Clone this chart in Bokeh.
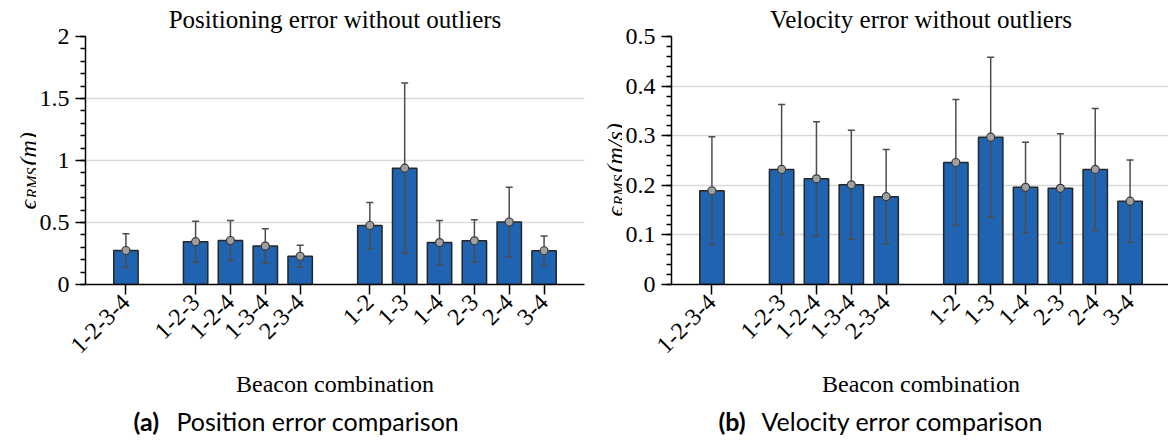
import numpy as np
from bokeh.plotting import figure
from bokeh.models import (ColumnDataSource, Range1d, FixedTicker, SingleIntervalTicker,
                          CustomJSTickFormatter)
from bokeh.layouts import row, column
from bokeh.core.properties import value
from bokeh.embed import file_html
from bokeh.resources import INLINE

# ---------------- data ----------------
combos = ["1-2-3-4", "1-2-3", "1-2-4", "1-3-4", "2-3-4",
          "1-2", "1-3", "1-4", "2-3", "2-4", "3-4"]
pos_mean = [0.274, 0.345, 0.355, 0.310, 0.228, 0.476, 0.938, 0.338, 0.352, 0.504, 0.272]
pos_std = [0.135, 0.166, 0.161, 0.139, 0.088, 0.186, 0.686, 0.178, 0.170, 0.281, 0.119]
vel_mean = [0.189, 0.232, 0.213, 0.201, 0.177, 0.246, 0.297, 0.196, 0.194, 0.232, 0.168]
vel_std = [0.109, 0.131, 0.115, 0.110, 0.095, 0.127, 0.161, 0.091, 0.110, 0.123, 0.083]

titles = ["Positioning error without outliers", "Velocity error without outliers"]
x_label = "Beacon combination"
y_units = ["(m)", "(m/s)"]
cap_tags = ["(a)", "(b)"]
cap_texts = ["Position error comparison", "Velocity error comparison"]

SERIF = "Liberation Serif"
SANS = "Lato"
BAR = "#1f63b1"
FS = "24px"
FW, FH = 499, 248          # plot frame size
TOP, BOTTOM = 36, 120      # space above / below the frame
LABW = 36                  # width of the strip holding the rotated y label
H_TOP = TOP + FH + BOTTOM
H_CAP = 440 - H_TOP


def slot_positions(labels):
    """one slot per bar, one empty slot between groups of equal beacon count"""
    pos, cur, prev = [], 0, None
    for lab in labels:
        n = lab.count("-") + 1
        if prev is not None:
            cur += 1 if n == prev else 2
        pos.append(cur)
        prev = n
    return pos


def blank(width, height):
    """axis-less canvas whose data units are pixels (origin bottom-left)"""
    f = figure(frame_width=width, frame_height=height, title=None,
               x_range=Range1d(0, width), y_range=Range1d(0, height),
               x_axis_location=None, y_axis_location=None,
               min_border=0, min_border_left=0, min_border_right=0,
               min_border_top=0, min_border_bottom=0,
               output_backend="svg", toolbar_location=None)
    f.grid.visible = False
    f.outline_line_color = None
    f.background_fill_color = "white"
    f.border_fill_color = "white"
    return f


def ylabel_strip(unit, start, bx):
    """eps_RMS(unit) written bottom-to-top"""
    f = blank(LABW, H_TOP)
    base = BOTTOM + start
    f.text(x=[bx], y=[base], text=["\u03f5"], angle=np.pi / 2,
           text_font=value(SERIF), text_font_size=FS, text_font_style="italic",
           text_align="left", text_baseline="alphabetic", text_color="black")
    f.text(x=[bx + 5], y=[base + 11], text=["RMS"], angle=np.pi / 2,
           text_font=value(SERIF), text_font_size="16px", text_font_style="italic",
           text_align="left", text_baseline="alphabetic", text_color="black")
    f.text(x=[bx], y=[base + 44], text=[unit], angle=np.pi / 2,
           text_font=value(SERIF), text_font_size=FS, text_font_style="italic",
           text_align="left", text_baseline="alphabetic", text_color="black")
    return f


def make(idx, mean, std, ymax, yint, bleft, bright):
    x = slot_positions(combos)
    src = ColumnDataSource(dict(
        x=x, mean=mean,
        upper=[m + s for m, s in zip(mean, std)],
        lower=[m - s for m, s in zip(mean, std)],
    ))
    p = figure(frame_width=FW, frame_height=FH,
               min_border_left=bleft, min_border_right=bright,
               min_border_top=TOP, min_border_bottom=BOTTOM,
               x_range=Range1d(x[0] - 1.16, x[-1] + 1.16),
               y_range=Range1d(0, ymax),
               output_backend="svg", toolbar_location=None,
               title=titles[idx])
    p.outline_line_color = None
    p.background_fill_color = "white"
    p.border_fill_color = "white"

    p.title.text_font = SERIF
    p.title.text_font_size = "25px"
    p.title.text_font_style = "normal"
    p.title.text_color = "black"
    p.title.align = "center"
    p.title.standoff = 7

    xa = p.xaxis[0]
    xa.ticker = FixedTicker(ticks=x, minor_ticks=[])
    xa.formatter = CustomJSTickFormatter(
        args=dict(slots=x, names=combos),
        code="const i = slots.indexOf(tick); return i >= 0 ? names[i] : '';")
    xa.major_label_orientation = np.pi / 4
    xa.major_label_text_font = SERIF
    xa.major_label_text_font_size = FS
    xa.major_label_text_color = "black"
    xa.major_label_standoff = 4
    xa.major_tick_out = 10
    xa.major_tick_in = 0
    xa.major_tick_line_width = 1.5
    xa.major_tick_line_color = "black"
    xa.minor_tick_line_color = None
    xa.axis_line_width = 1.5
    xa.axis_line_color = "black"
    xa.axis_label = x_label
    xa.axis_label_text_font = SERIF
    xa.axis_label_text_font_size = FS
    xa.axis_label_text_font_style = "normal"
    xa.axis_label_text_color = "black"
    xa.axis_label_standoff = 8

    ya = p.yaxis[0]
    ya.ticker = SingleIntervalTicker(interval=yint, num_minor_ticks=5)
    ya.formatter = CustomJSTickFormatter(code="return String(Number(tick.toFixed(3)));")
    ya.major_label_text_font = SERIF
    ya.major_label_text_font_size = FS
    ya.major_label_text_color = "black"
    ya.major_label_standoff = 6
    ya.major_tick_out = 10
    ya.major_tick_in = 0
    ya.minor_tick_out = 5
    ya.minor_tick_in = 0
    ya.major_tick_line_width = 1.5
    ya.minor_tick_line_width = 1.5
    ya.major_tick_line_color = "black"
    ya.minor_tick_line_color = "black"
    ya.axis_line_width = 1.5
    ya.axis_line_color = "black"

    p.xgrid.visible = False
    p.ygrid.grid_line_color = "#d9d9d9"
    p.ygrid.grid_line_width = 1.5

    p.vbar(x="x", top="mean", bottom=0, width=0.7, source=src,
           fill_color=BAR, line_color="#262626", line_width=1.5)
    p.segment(x0="x", y0="lower", x1="x", y1="upper", source=src,
              line_color="#4d4d4d", line_width=1.5)
    p.scatter(x="x", y="upper", marker="dash", size=7, source=src,
              line_color="#4d4d4d", line_width=1.5)
    p.scatter(x="x", y="lower", marker="dash", size=7, source=src,
              line_color="#4d4d4d", line_width=1.5)
    p.scatter(x="x", y="mean", marker="circle", size=8, source=src,
              fill_color="#a0a0a0", line_color="#3a3a3a", line_width=1.2)
    return p


p1 = make(0, pos_mean, pos_std, 2.0, 0.5, 83 - LABW, 2)
p2 = make(1, vel_mean, vel_std, 0.5, 0.1, 85 - LABW, 0)
lab1 = ylabel_strip(y_units[0], 111, 27)
lab2 = ylabel_strip(y_units[1], 104, 28)

# caption strip below both panels
cap = blank(1168, H_CAP)
cap_y = H_CAP - (420 - H_TOP)
cap.text(x=[133, 718], y=[cap_y, cap_y], text=cap_tags,
         text_font=value(SANS), text_font_size="25px", text_font_style="bold",
         text_align="left", text_baseline="middle", text_color="black")
cap.text(x=[176, 761], y=[cap_y, cap_y], text=cap_texts,
         text_font=value(SANS), text_font_size="25px", text_font_style="normal",
         text_align="left", text_baseline="middle", text_color="black")

layout = column(row(lab1, p1, lab2, p2), cap)
open("out.html", "w").write(file_html(layout, INLINE))
